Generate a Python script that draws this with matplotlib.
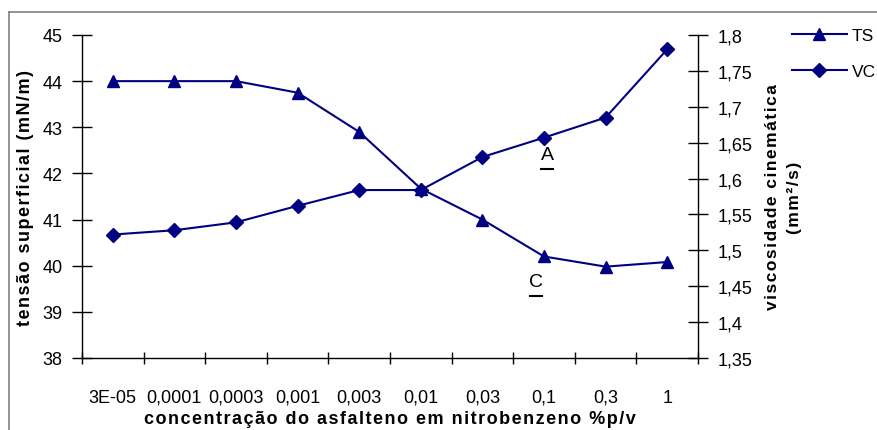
import matplotlib
matplotlib.use("Agg")
import matplotlib.pyplot as plt
from matplotlib.lines import Line2D
from matplotlib.ticker import FixedLocator, NullFormatter

plt.rcParams['font.family'] = ['Liberation Sans', 'DejaVu Sans']

categories = ["3E-05", "0,0001", "0,0003", "0,001", "0,003", "0,01", "0,03", "0,1", "0,3", "1"]
ts_values = [44.0, 44.0, 44.0, 43.75, 42.9, 41.67, 41.0, 40.2, 39.98, 40.08]
vc_values = [1.522, 1.528, 1.539, 1.562, 1.584, 1.584, 1.630, 1.657, 1.685, 1.780]
left_ticks = [38, 39, 40, 41, 42, 43, 44, 45]
right_ticks = [1.35, 1.4, 1.45, 1.5, 1.55, 1.6, 1.65, 1.7, 1.75, 1.8]


def spaced(s, sep="\u200a"):
    return sep.join(s)


navy = "#000080"
fig = plt.figure(figsize=(8.77, 4.31), dpi=100)
ax = fig.add_axes([82/877, 1-359/431, (698-82)/877, (359-36)/431])
ax2 = ax.twinx()

x = list(range(len(categories)))
ax.plot(x, ts_values, color=navy, lw=1.5, marker='^', ms=9, label='TS')
ax2.plot(x, vc_values, color=navy, lw=1.5, marker='D', ms=7, label='VC')

ax.set_xlim(-0.5, len(categories)-0.5)
ax.set_ylim(38, 45)
ax2.set_ylim(1.35, 1.8)

tick_fs = 13
ax.set_xticks(x)
ax.set_xticklabels(categories, fontsize=tick_fs)
ax.tick_params(axis='x', which='major', length=0, pad=22)
ax.xaxis.set_minor_locator(FixedLocator([i+0.5 for i in range(-1, len(categories))]))
ax.xaxis.set_minor_formatter(NullFormatter())
ax.tick_params(axis='x', which='minor', direction='inout', length=9, width=1, color='black')

ax.set_yticks(left_ticks)
ax.set_yticklabels([str(v) for v in left_ticks], fontsize=tick_fs)
ax.tick_params(axis='y', direction='inout', length=14, width=1, pad=7)
ax2.set_yticks(right_ticks)
ax2.set_yticklabels([f"{v:g}".replace('.', ',') for v in right_ticks], fontsize=tick_fs)
ax2.tick_params(axis='y', direction='inout', length=14, width=1, pad=7)

for a in (ax, ax2):
    a.spines['top'].set_visible(False)
    for s in a.spines.values():
        s.set_linewidth(1)
ax2.spines['left'].set_visible(False)
ax2.spines['bottom'].set_visible(False)
ax.spines['right'].set_visible(False)

ax.set_ylabel(spaced("tensão superficial (mN/m)"), fontsize=13, fontweight='bold', labelpad=6)
ax2.set_ylabel(spaced("viscosidade cinemática") + "\n" + spaced("(mm²/s)"), fontsize=12.5,
               fontweight='bold', labelpad=9, linespacing=1.55)
ax.set_xlabel(spaced("concentração do asfalteno em nitrobenzeno %p/v"),
              fontsize=13, fontweight='bold', labelpad=3)

# annotation letters with underline
for letter, xc, yc in [("A", 7.05, 42.4), ("C", 6.87, 39.65)]:
    ax.text(xc, yc, letter, fontsize=14, ha='center', va='center', color='black')
    ax.add_line(Line2D([xc-0.1, xc+0.1], [yc-0.3, yc-0.3], color='black', lw=1.5))

handles = [Line2D([], [], color=navy, lw=1.5, marker='^', ms=9),
           Line2D([], [], color=navy, lw=1.5, marker='D', ms=7)]
fig.legend(handles, ['TS', 'VC'], loc='upper left', bbox_to_anchor=(785/877, 1-22/431),
           frameon=False, fontsize=12.5, handlelength=3.16, labelspacing=1.2, handletextpad=0.3,
           borderaxespad=0)

fig.add_artist(Line2D([9/877, 9/877], [0, 1-13/431], color='#808080', lw=1.2, transform=fig.transFigure))
fig.add_artist(Line2D([9/877, 1], [1-13/431, 1-13/431], color='#808080', lw=1.2, transform=fig.transFigure))

fig.savefig("out.png", dpi=100)
